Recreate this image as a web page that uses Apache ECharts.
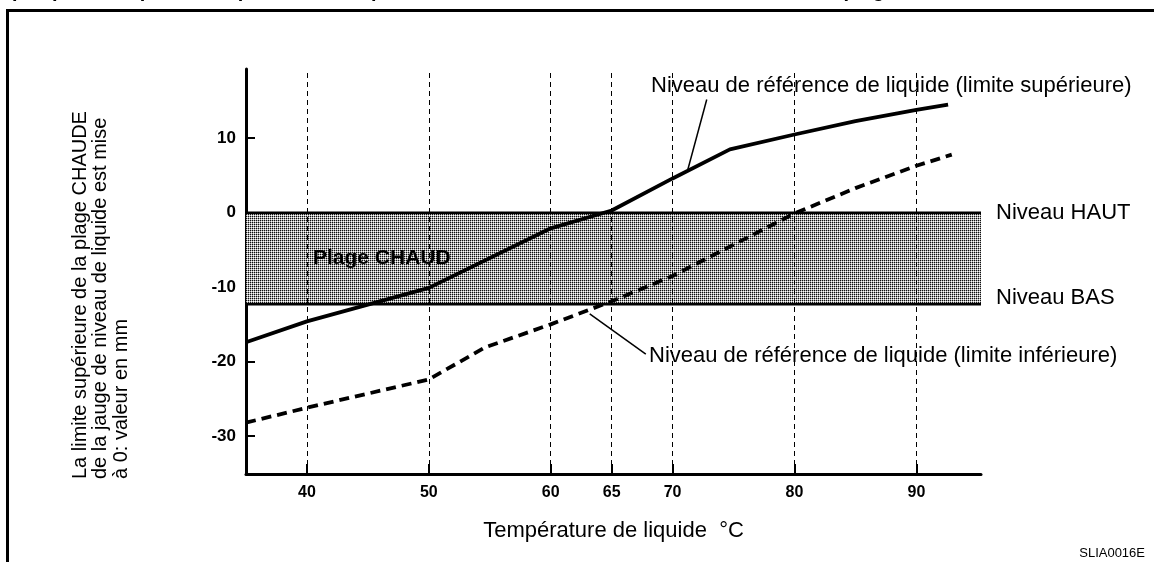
<!DOCTYPE html>
<html>
<head>
<meta charset="utf-8">
<script src="https://cdn.jsdelivr.net/npm/echarts@6.0.0/dist/echarts.min.js"></script>
<style>
html, body { margin: 0; padding: 0; background: #fff; }
#chart { width: 1154px; height: 562px; }
</style>
</head>
<body>
<div id="chart"></div>
<script>
// valeurs
const tempTicks = [40, 50, 60, 65, 70, 80, 90];
const levelTicks = [-30, -20, -10, 0, 10];
const upperTemp = [35, 40, 50, 60, 65, 70, 74.7, 80, 85, 90, 92.6];
const upperLevel = [-17.4, -14.6, -10.1, -2.1, 0.3, 4.6, 8.5, 10.5, 12.3, 13.8, 14.5];
const lowerTemp = [35, 40, 50, 54.6, 60, 65, 70, 80, 85, 90, 92.9];
const lowerLevel = [-28.2, -26.2, -22.4, -18.1, -15.0, -11.9, -8.5, -0.1, 3.3, 6.3, 7.8];
const bandTemp = [35, 95.3];
const hautLevel = 0;
const basLevel = -12.3;

const FONT = '"Liberation Sans", Arial, sans-serif';
const NARROW = '"Liberation Sans Narrow", "Liberation Sans", Arial, sans-serif';

// trame pointillée de la plage CHAUD
const pat = document.createElement('canvas');
pat.width = 2;
pat.height = 2;
const pctx = pat.getContext('2d');
pctx.fillStyle = '#fff';
pctx.fillRect(0, 0, 2, 2);
pctx.fillStyle = '#111';
pctx.fillRect(0, 0, 1, 1);
pctx.fillStyle = '#aaa';
pctx.fillRect(1, 0, 1, 1);
pctx.fillRect(0, 1, 1, 1);

const zip = (xs, ys) => xs.map((x, i) => [x, ys[i]]);

const chart = echarts.init(document.getElementById('chart'));
chart.setOption({
    animation: false,
    grid: { left: 246, right: 173, top: 69, bottom: 88 },
    xAxis: {
        type: 'value',
        min: 35,
        max: 95.3,
        name: 'Température de liquide  °C',
        nameLocation: 'middle',
        nameGap: 46,
        nameTextStyle: { fontSize: 22, color: '#000', fontFamily: FONT },
        axisLine: { onZero: false, lineStyle: { color: '#000', width: 3 } },
        axisTick: { inside: true, length: 10, customValues: tempTicks, lineStyle: { color: '#000', width: 2 } },
        axisLabel: { customValues: tempTicks, fontSize: 16, fontWeight: 'bold', color: '#000', margin: 11, fontFamily: NARROW },
        splitLine: { show: false },
    },
    yAxis: {
        type: 'value',
        min: -35.1,
        max: 19.3,
        axisLine: { show: true, onZero: false, lineStyle: { color: '#000', width: 3 } },
        axisTick: { show: true, inside: true, length: 9, customValues: levelTicks, lineStyle: { color: '#000', width: 2 } },
        axisLabel: { customValues: levelTicks, fontSize: 17, fontWeight: 'bold', color: '#000', margin: 10, fontFamily: FONT },
        splitLine: { show: false },
    },
    series: [
        {
            name: 'Niveau HAUT',
            type: 'line',
            z: 2,
            symbol: 'none',
            data: bandTemp.map((t) => [t, hautLevel]),
            lineStyle: { color: '#000', width: 2.5 },
            endLabel: { show: true, formatter: 'Niveau HAUT', distance: 15, fontSize: 22, color: '#000', fontFamily: FONT },
            markArea: {
                silent: true,
                itemStyle: { color: { image: pat, repeat: 'repeat' } },
                label: {
                    show: true,
                    position: 'insideLeft',
                    distance: 67,
                    formatter: 'Plage CHAUD',
                    fontSize: 21,
                    fontWeight: 'bold',
                    color: '#000',
                    fontFamily: FONT,
                },
                data: [[{ coord: [bandTemp[0], hautLevel] }, { coord: [bandTemp[1], basLevel] }]],
            },
            markLine: {
                silent: true,
                symbol: 'none',
                label: { show: false },
                lineStyle: { color: '#000', width: 1, type: [5, 4] },
                data: tempTicks.map((t) => ({ xAxis: t })),
            },
        },
        {
            name: 'Niveau BAS',
            type: 'line',
            z: 2,
            symbol: 'none',
            data: bandTemp.map((t) => [t, basLevel]),
            lineStyle: { color: '#000', width: 2.5 },
            endLabel: { show: true, formatter: 'Niveau BAS', distance: 15, offset: [0, -6], fontSize: 22, color: '#000', fontFamily: FONT },
        },
        {
            name: 'limite supérieure',
            type: 'line',
            z: 4,
            symbol: 'none',
            data: zip(upperTemp, upperLevel),
            lineStyle: { color: '#000', width: 3.8 },
            markLine: {
                silent: true,
                symbol: 'none',
                label: { show: false },
                lineStyle: { color: '#000', width: 1.5, type: 'solid' },
                data: [[{ coord: [72.8, 15.2] }, { coord: [71.2, 5.5] }]],
            },
        },
        {
            name: 'limite inférieure',
            type: 'line',
            z: 4,
            symbol: 'none',
            data: zip(lowerTemp, lowerLevel),
            lineStyle: { color: '#000', width: 3.8, type: [10, 6] },
            markLine: {
                silent: true,
                symbol: 'none',
                label: { show: false },
                lineStyle: { color: '#000', width: 1.5, type: 'solid' },
                data: [[{ coord: [63.2, -13.6] }, { coord: [67.8, -19.0] }]],
            },
        },
    ],
    graphic: [
        {
            type: 'polyline',
            shape: { points: [[7.5, 562], [7.5, 10.5], [1154, 10.5]] },
            style: { stroke: '#000', lineWidth: 3, fill: null },
        },
        {
            type: 'text',
            x: -38,
            y: -19,
            style: {
                text: 'Lorsque, par exemple, la température du liquide est de 65 °C, le niveau doit se situer dans la plage CHAUD, entre HAUT et BAS',
                font: 'bold 20px ' + FONT,
                fill: '#000',
            },
        },
        {
            type: 'text',
            x: 70,
            y: 479,
            rotation: Math.PI / 2,
            style: {
                text: 'La limite supérieure de la plage CHAUDE\nde la jauge de niveau de liquide est mise\nà 0: valeur en mm',
                font: '20px ' + FONT,
                lineHeight: 20.5,
                fill: '#000',
                align: 'left',
                verticalAlign: 'top',
            },
        },
        {
            type: 'text',
            x: 651,
            y: 86,
            style: {
                text: 'Niveau de référence de liquide (limite supérieure)',
                font: '22px ' + FONT,
                fill: '#000',
                align: 'left',
                verticalAlign: 'middle',
            },
        },
        {
            type: 'text',
            x: 649,
            y: 356,
            style: {
                text: 'Niveau de référence de liquide (limite inférieure)',
                font: '22px ' + FONT,
                fill: '#000',
                align: 'left',
                verticalAlign: 'middle',
            },
        },
        {
            type: 'text',
            x: 1145,
            y: 553,
            style: {
                text: 'SLIA0016E',
                font: '13px ' + FONT,
                fill: '#000',
                align: 'right',
                verticalAlign: 'middle',
            },
        },
    ],
});
</script>
</body>
</html>
